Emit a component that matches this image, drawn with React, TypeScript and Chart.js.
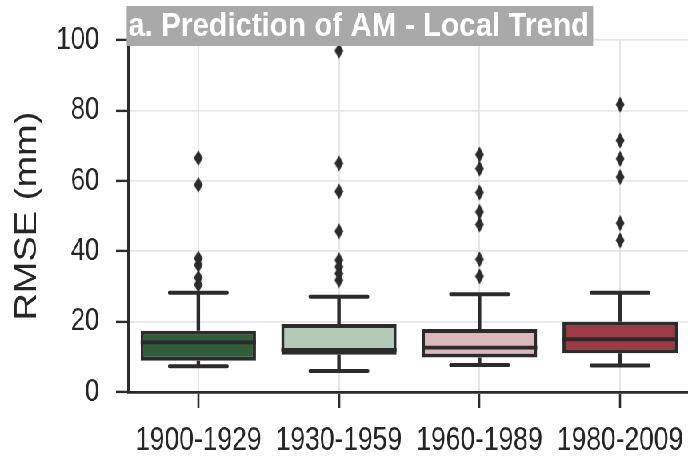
import React, { useEffect, useRef } from "react";
import { Chart, registerables } from "chart.js";

Chart.register(...registerables);

const categories = ["1900-1929", "1930-1959", "1960-1989", "1980-2009"];
const q1 = [8.9, 10.6, 9.8, 11.0];
const q3 = [17.4, 19.3, 17.9, 20.0];
const medians = [14.1, 12.0, 12.6, 15.0];
const whiskerLow = [7.3, 6.0, 7.7, 7.5];
const whiskerHigh = [28.2, 27.1, 27.8, 28.2];
const outliers1900 = [66.5, 58.9, 38.0, 36.1, 32.5, 30.5];
const outliers1930 = [97.0, 65.0, 57.0, 45.7, 37.5, 35.6, 33.7, 31.8];
const outliers1960 = [67.5, 63.5, 56.7, 51.2, 47.6, 37.7, 32.9];
const outliers1980 = [81.7, 71.5, 66.3, 61.1, 48.0, 43.1];
const yTicks = [0, 20, 40, 60, 80, 100];
const boxColors = ["#2f5e39", "#b3cab8", "#dbb8bb", "#9d3a44"];
const titleText = "a. Prediction of AM - Local Trend";
const yTitle = "RMSE (mm)";

const DARK = "#2b2b2b";
const SQUEEZE = 0.8;
const W = 872;
const H = 461;

function makeDiamond(): HTMLCanvasElement {
  const c = document.createElement("canvas");
  c.width = 12;
  c.height = 17;
  const g = c.getContext("2d")!;
  g.fillStyle = DARK;
  g.beginPath();
  g.moveTo(6, 0.5);
  g.lineTo(11.5, 8.5);
  g.lineTo(6, 16.5);
  g.lineTo(0.5, 8.5);
  g.closePath();
  g.fill();
  return c;
}

const boxPlugin = {
  id: "boxParts",
  beforeDatasetsDraw(chart: any) {
    const { ctx, scales } = chart;
    const xs = scales.x;
    const ys = scales.y;
    const step = xs.getPixelForValue(1) - xs.getPixelForValue(0);
    const half = step * 0.205;
    ctx.save();
    ctx.strokeStyle = DARK;
    for (let i = 0; i < categories.length; i++) {
      const x = xs.getPixelForValue(i);
      ctx.lineWidth = 4.4;
      ctx.lineCap = "butt";
      ctx.beginPath();
      ctx.moveTo(x, ys.getPixelForValue(q3[i]));
      ctx.lineTo(x, ys.getPixelForValue(whiskerHigh[i]));
      ctx.moveTo(x, ys.getPixelForValue(q1[i]));
      ctx.lineTo(x, ys.getPixelForValue(whiskerLow[i]));
      ctx.stroke();
      ctx.lineWidth = 4;
      ctx.lineCap = "round";
      ctx.beginPath();
      const yh = ys.getPixelForValue(whiskerHigh[i]);
      const yl = ys.getPixelForValue(whiskerLow[i]);
      ctx.moveTo(x - half, yh);
      ctx.lineTo(x + half, yh);
      ctx.moveTo(x - half, yl);
      ctx.lineTo(x + half, yl);
      ctx.stroke();
    }
    ctx.restore();
  },
  afterDatasetsDraw(chart: any) {
    const { ctx, scales } = chart;
    const ys = scales.y;
    const meta = chart.getDatasetMeta(0);
    ctx.save();
    ctx.strokeStyle = DARK;
    ctx.lineWidth = 3.8;
    for (let i = 0; i < categories.length; i++) {
      const bar = meta.data[i];
      const y = ys.getPixelForValue(medians[i]);
      ctx.beginPath();
      ctx.moveTo(bar.x - bar.width / 2, y);
      ctx.lineTo(bar.x + bar.width / 2, y);
      ctx.stroke();
    }
    ctx.restore();
  },
  afterDraw(chart: any) {
    const { ctx, chartArea } = chart;
    const left = chartArea.left - 1.6;
    const boxW = 583;
    ctx.save();
    ctx.fillStyle = "#a9a9a9";
    ctx.fillRect(left, 6, boxW, 40);
    ctx.font = "bold 34px 'Liberation Sans', Arial, sans-serif";
    const m = ctx.measureText(titleText).width;
    const target = 576;
    ctx.translate(left + 2, 35.5);
    ctx.scale(target / m, 1);
    ctx.fillStyle = "#ffffff";
    ctx.textBaseline = "alphabetic";
    ctx.textAlign = "left";
    ctx.fillText(titleText, 0, 0);
    ctx.restore();
  },
};

export default function App() {
  const ref = useRef<HTMLCanvasElement | null>(null);
  useEffect(() => {
    if (!ref.current) return;
    const diamond = makeDiamond();
    const outlierLists = [outliers1900, outliers1930, outliers1960, outliers1980];
    const outlierPoints: { x: string; y: number }[] = [];
    outlierLists.forEach((list, i) => {
      list.forEach((v) => outlierPoints.push({ x: categories[i], y: v }));
    });
    const chart = new Chart(ref.current, {
      type: "bar",
      data: {
        labels: categories,
        datasets: [
          {
            type: "bar",
            data: categories.map((_, i) => [q1[i], q3[i]]) as any,
            backgroundColor: boxColors,
            borderColor: DARK,
            borderWidth: 4,
            borderSkipped: false,
            barPercentage: 0.82,
            categoryPercentage: 1,
            order: 2,
          } as any,
          {
            type: "line",
            data: outlierPoints as any,
            showLine: false,
            pointStyle: diamond as any,
            pointRadius: 8,
            order: 1,
          } as any,
        ],
      },
      plugins: [boxPlugin],
      options: {
        animation: false,
        responsive: false,
        maintainAspectRatio: false,
        devicePixelRatio: 1,
        layout: { padding: { top: 39.5, right: 3, bottom: 0, left: 0 } },
        plugins: {
          legend: { display: false },
          tooltip: { enabled: false },
          title: { display: false },
        },
        scales: {
          x: {
            type: "category",
            offset: true,
            afterFit: (s: any) => {
              s.height = 69;
            },
            grid: {
              offset: false,
              color: "#e6e6e6",
              lineWidth: 2,
              drawTicks: true,
              tickLength: 16,
              tickColor: DARK,
              tickWidth: 2.6,
            },
            border: { color: DARK, width: 2.8 },
            ticks: {
              color: "#262626",
              font: { family: "'Liberation Sans', Arial, sans-serif", size: 33 },
              padding: 13,
              maxRotation: 0,
              minRotation: 0,
              autoSkip: false,
            },
          },
          y: {
            type: "linear",
            min: 0,
            max: 100,
            afterFit: (s: any) => {
              s.width = 160;
            },
            afterBuildTicks: (s: any) => {
              s.ticks = yTicks.map((v) => ({ value: v }));
            },
            grid: {
              color: "#e6e6e6",
              lineWidth: 1.8,
              drawTicks: true,
              tickLength: 15,
              tickColor: DARK,
              tickWidth: 2.4,
            },
            border: { color: DARK, width: 3 },
            ticks: {
              color: "#262626",
              font: { family: "'Liberation Sans', Arial, sans-serif", size: 32 },
              padding: 21,
            },
            title: {
              display: true,
              text: yTitle,
              color: "#262626",
              font: { family: "'Liberation Sans', Arial, sans-serif", size: 38 },
              padding: { top: 12, bottom: 0 },
            },
          },
        },
      },
    });
    return () => chart.destroy();
  }, []);

  return (
    <div
      style={{
        position: "fixed",
        left: 0,
        top: 0,
        width: W,
        height: H,
        transform: `scaleX(${SQUEEZE})`,
        transformOrigin: "0 0",
        background: "#ffffff",
      }}
    >
      <canvas ref={ref} width={W} height={H} style={{ display: "block" }} />
    </div>
  );
}
